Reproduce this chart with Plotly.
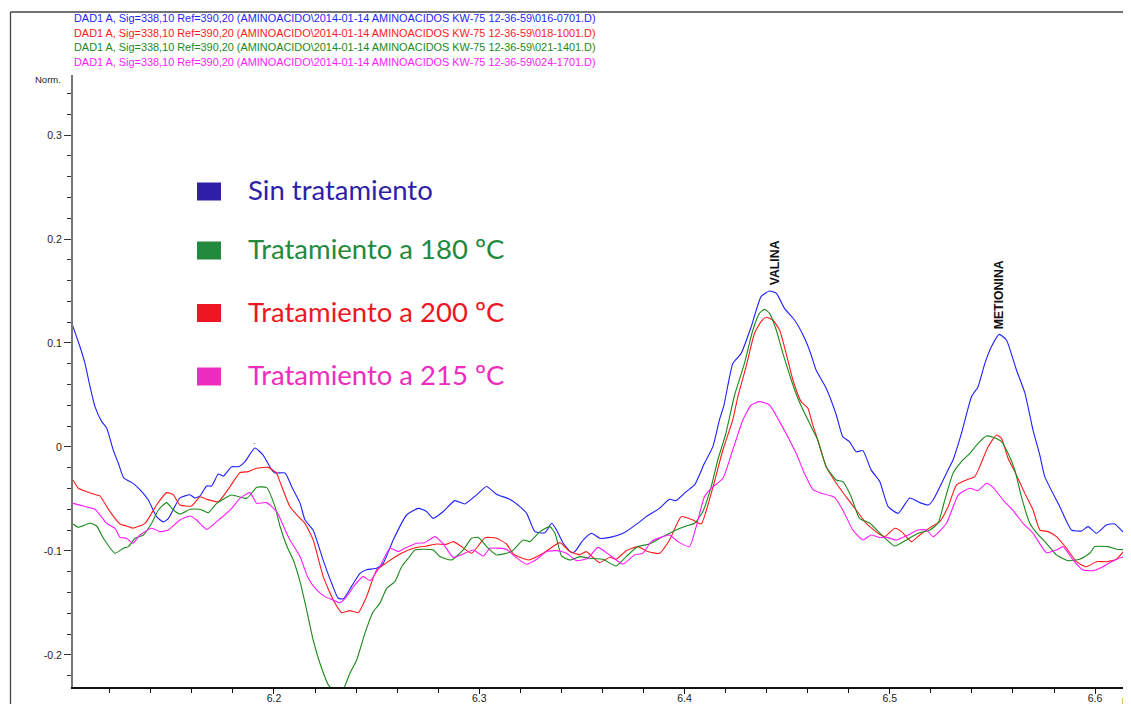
import plotly.graph_objects as go

# ---------------- data (retention time in min, normalized signal) ----------------
blue_t = [6.1019, 6.1055, 6.1079, 6.1104, 6.1128, 6.1161, 6.1185, 6.1217, 6.1242, 6.1269, 6.1307, 6.1347,
          6.1388, 6.1428, 6.1461, 6.1485, 6.1542, 6.1591, 6.1615, 6.1640, 6.1672, 6.1696, 6.1729, 6.1753,
          6.1794, 6.1826, 6.1859, 6.1907, 6.1948, 6.1989, 6.2005, 6.2054, 6.2086, 6.2127, 6.2151, 6.2191,
          6.2240, 6.2281, 6.2313, 6.2338, 6.2378, 6.2419, 6.2451, 6.2500, 6.2532, 6.2581, 6.2646, 6.2703,
          6.2743, 6.2776, 6.2825, 6.2881, 6.2930, 6.2987, 6.3036, 6.3084, 6.3149, 6.3198, 6.3231, 6.3271,
          6.3320, 6.3353, 6.3377, 6.3409, 6.3450, 6.3466, 6.3507, 6.3547, 6.3588, 6.3637, 6.3701, 6.3783,
          6.3813, 6.3878, 6.3927, 6.3959, 6.4008, 6.4049, 6.4097, 6.4138, 6.4170, 6.4192, 6.4235, 6.4276,
          6.4325, 6.4373, 6.4414, 6.4447, 6.4487, 6.4536, 6.4585, 6.4617, 6.4641, 6.4690, 6.4739, 6.4771,
          6.4804, 6.4836, 6.4869, 6.4909, 6.4951, 6.4992, 6.5041, 6.5097, 6.5146, 6.5187, 6.5211, 6.5284,
          6.5308, 6.5349, 6.5398, 6.5430, 6.5463, 6.5495, 6.5533, 6.5568, 6.5617, 6.5658, 6.5698, 6.5731,
          6.5755, 6.5828, 6.5885, 6.5934, 6.5966, 6.6007, 6.6055, 6.6096, 6.6145, 6.6174]
blue_v = [0.117, 0.0964, 0.0806, 0.058, 0.0388, 0.0244, 0.0183, -0.003, -0.0157, -0.030, -0.034, -0.041,
          -0.051, -0.067, -0.072, -0.069, -0.049, -0.046, -0.049, -0.047, -0.0375, -0.0375, -0.026, -0.028,
          -0.019, -0.019, -0.014, -0.001, -0.008, -0.022, -0.025, -0.025, -0.038, -0.054, -0.070, -0.080,
          -0.109, -0.131, -0.1455, -0.146, -0.134, -0.1215, -0.118, -0.1167, -0.112, -0.0894, -0.0654, -0.059,
          -0.062, -0.0686, -0.062, -0.0516, -0.0548, -0.046, -0.038, -0.0455, -0.0503, -0.0574, -0.0638, -0.0814,
          -0.0824, -0.0734, -0.080, -0.0926, -0.1016, -0.1006, -0.0894, -0.083, -0.0878, -0.0869, -0.083, -0.0718,
          -0.067, -0.059, -0.0503, -0.0516, -0.043, -0.0365, -0.0157, 0.0003, 0.026, 0.040, 0.080, 0.090,
          0.1157, 0.1446, 0.150, 0.1478, 0.1333, 0.1221, 0.1045, 0.0885, 0.074, 0.0564, 0.031, 0.0099,
          0.005, -0.0045, -0.0035, -0.022, -0.0333, -0.0574, -0.0638, -0.049, -0.0535, -0.0558, -0.051, -0.022,
          -0.0125, 0.0131, 0.0484, 0.058, 0.0804, 0.0965, 0.1083, 0.1029, 0.074, 0.052, 0.016, -0.008,
          -0.0285, -0.0574, -0.0798, -0.0808, -0.0766, -0.083, -0.075, -0.074, -0.083, -0.0824]

red_t = [6.1021, 6.1047, 6.1088, 6.1136, 6.1152, 6.1201, 6.1250, 6.1282, 6.1312, 6.1372, 6.1428, 6.1477,
         6.1510, 6.1542, 6.1599, 6.1640, 6.1672, 6.1729, 6.1786, 6.1834, 6.1875, 6.1916, 6.1972, 6.2013,
         6.2029, 6.2078, 6.2127, 6.2151, 6.2191, 6.2240, 6.2289, 6.2330, 6.2370, 6.2411, 6.2451, 6.2500,
         6.2549, 6.2614, 6.2679, 6.2743, 6.2792, 6.2841, 6.2873, 6.2914, 6.2963, 6.3028, 6.3084, 6.3133,
         6.3166, 6.3239, 6.3312, 6.3393, 6.3442, 6.3490, 6.3521, 6.3586, 6.3635, 6.3667, 6.3716, 6.3773,
         6.3821, 6.3878, 6.3927, 6.3984, 6.4041, 6.4081, 6.4130, 6.4187, 6.4235, 6.4260, 6.4300, 6.4341,
         6.4373, 6.4398, 6.4430, 6.4463, 6.4495, 6.4528, 6.4568, 6.4601, 6.4625, 6.4649, 6.4690, 6.4739,
         6.4787, 6.4836, 6.4885, 6.4943, 6.4976, 6.5024, 6.5057, 6.5106, 6.5146, 6.5203, 6.5244, 6.5284,
         6.5325, 6.5373, 6.5414, 6.5438, 6.5479, 6.5520, 6.5544, 6.5576, 6.5609, 6.5658, 6.5698, 6.5731,
         6.5771, 6.5812, 6.5861, 6.5909, 6.5958, 6.6007, 6.6055, 6.6104, 6.6153, 6.6174]
red_v = [-0.0317, -0.0397, -0.043, -0.0462, -0.047, -0.0622, -0.074, -0.076, -0.078, -0.0734, -0.0558, -0.0439,
         -0.046, -0.0558, -0.0567, -0.0478, -0.0503, -0.0526, -0.0381, -0.0247, -0.0237, -0.0205, -0.0196, -0.0253,
         -0.0333, -0.0574, -0.0686, -0.0734, -0.0894, -0.1247, -0.1471, -0.1593, -0.1574, -0.1593, -0.1439, -0.1183,
         -0.1112, -0.1029, -0.0974, -0.0952, -0.0933, -0.0936, -0.091, -0.0958, -0.1022, -0.0872, -0.0878, -0.0933,
         -0.1029, -0.1087, -0.1022, -0.092, -0.1006, -0.1035, -0.1006, -0.1112, -0.1061, -0.108, -0.0997, -0.0958,
         -0.1006, -0.1022, -0.0894, -0.067, -0.0702, -0.074, -0.0446, -0.0029, 0.026, 0.0484, 0.0772, 0.1093,
         0.1205, 0.1247, 0.1221, 0.1125, 0.0901, 0.0644, 0.0436, 0.0372, 0.021, 0.0067, -0.0189, -0.0349,
         -0.0478, -0.0606, -0.0734, -0.083, -0.0862, -0.0782, -0.0814, -0.091, -0.0846, -0.0766, -0.0718, -0.0574,
         -0.0365, -0.0317, -0.0285, -0.0189, 0.0003, 0.0115, 0.0083, -0.0109, -0.0237, -0.0446, -0.0606, -0.0798,
         -0.0814, -0.0862, -0.0974, -0.1103, -0.1151, -0.1103, -0.1103, -0.108, -0.0974, -0.0968]

green_t = [6.1021, 6.1047, 6.1104, 6.1136, 6.1169, 6.1226, 6.1266, 6.1291, 6.1323, 6.1364, 6.1404, 6.1437,
           6.1477, 6.1510, 6.1542, 6.1591, 6.1640, 6.1680, 6.1721, 6.1794, 6.1867, 6.1916, 6.1964, 6.2005,
           6.2029, 6.2062, 6.2094, 6.2127, 6.2159, 6.2191, 6.2224, 6.2265, 6.2310, 6.2338, 6.2370, 6.2403,
           6.2443, 6.2484, 6.2516, 6.2549, 6.2589, 6.2622, 6.2654, 6.2687, 6.2727, 6.2776, 6.2808, 6.2865,
           6.2922, 6.2963, 6.2995, 6.3036, 6.3084, 6.3157, 6.3214, 6.3247, 6.3296, 6.3344, 6.3369, 6.3401,
           6.3442, 6.3490, 6.3537, 6.3602, 6.3667, 6.3716, 6.3773, 6.3829, 6.3894, 6.3959, 6.4008, 6.4049,
           6.4089, 6.4130, 6.4162, 6.4200, 6.4244, 6.4292, 6.4333, 6.4365, 6.4390, 6.4414, 6.4447, 6.4479,
           6.4520, 6.4552, 6.4585, 6.4625, 6.4649, 6.4690, 6.4739, 6.4771, 6.4812, 6.4852, 6.4903, 6.4968,
           6.5024, 6.5081, 6.5138, 6.5195, 6.5235, 6.5268, 6.5308, 6.5349, 6.5390, 6.5430, 6.5471, 6.5503,
           6.5544, 6.5576, 6.5609, 6.5641, 6.5682, 6.5714, 6.5763, 6.5812, 6.5869, 6.5925, 6.5974, 6.5999,
           6.6063, 6.6104, 6.6145, 6.6174]
green_v = [-0.074, -0.0772, -0.0734, -0.076, -0.0878, -0.1022, -0.0974, -0.0958, -0.0878, -0.0846, -0.0734, -0.0606,
           -0.0535, -0.0606, -0.0644, -0.0599, -0.0599, -0.0631, -0.0542, -0.0462, -0.0494, -0.0388, -0.0391, -0.0574,
           -0.076, -0.095, -0.1087, -0.1295, -0.1567, -0.1856, -0.208, -0.2288, -0.238, -0.233, -0.2176, -0.2048,
           -0.1792, -0.1583, -0.1503, -0.1359, -0.1295, -0.1151, -0.1071, -0.099, -0.0984, -0.099, -0.1054, -0.1087,
           -0.099, -0.0878, -0.0869, -0.0958, -0.1038, -0.1006, -0.0894, -0.091, -0.0814, -0.0766, -0.083, -0.1048,
           -0.1087, -0.1054, -0.107, -0.108, -0.1144, -0.1054, -0.0958, -0.0933, -0.0862, -0.0798, -0.076, -0.0734,
           -0.0622, -0.0381, -0.0125, 0.012, 0.050, 0.0804, 0.1125, 0.1285, 0.1324, 0.1285, 0.1125, 0.0901,
           0.0644, 0.0468, 0.0324, 0.0163, 0.0067, -0.0189, -0.0317, -0.0333, -0.0478, -0.0686, -0.0734, -0.0862,
           -0.0952, -0.0894, -0.083, -0.0798, -0.0734, -0.051, -0.0253, -0.0141, -0.0061, 0.0035, 0.0106, 0.0093,
           0.0051, -0.0061, -0.0221, -0.0478, -0.0734, -0.0824, -0.0926, -0.1038, -0.1093, -0.108, -0.1022, -0.0958,
           -0.0958, -0.0984, -0.099, -0.1054]

magenta_t = [6.1021, 6.1071, 6.1128, 6.1185, 6.1226, 6.1250, 6.1282, 6.1312, 6.1347, 6.1404, 6.1445, 6.1485,
             6.1542, 6.1591, 6.1623, 6.1672, 6.1721, 6.1794, 6.1834, 6.1883, 6.1916, 6.1964, 6.2013, 6.2062,
             6.2078, 6.2127, 6.2167, 6.2208, 6.2249, 6.2289, 6.2322, 6.2354, 6.2394, 6.2435, 6.2468, 6.2516,
             6.2565, 6.2606, 6.2638, 6.2695, 6.2735, 6.2784, 6.2825, 6.2873, 6.2922, 6.2971, 6.3020, 6.3052,
             6.3133, 6.3174, 6.3231, 6.3280, 6.3328, 6.3377, 6.3425, 6.3474, 6.3529, 6.3578, 6.3635, 6.3700,
             6.3756, 6.3797, 6.3838, 6.3894, 6.3927, 6.3968, 6.4024, 6.4057, 6.4097, 6.4130, 6.4187, 6.4235,
             6.4284, 6.4325, 6.4365, 6.4414, 6.4463, 6.4503, 6.4544, 6.4584, 6.4625, 6.4658, 6.4731, 6.4771,
             6.4820, 6.4869, 6.4909, 6.4950, 6.4984, 6.5032, 6.5089, 6.5138, 6.5179, 6.5211, 6.5276, 6.5333,
             6.5390, 6.5430, 6.5471, 6.5503, 6.5552, 6.5601, 6.5649, 6.5698, 6.5763, 6.5812, 6.5844, 6.5893,
             6.5942, 6.5990, 6.6039, 6.6080, 6.6137, 6.6174]
magenta_v = [-0.0542, -0.0567, -0.0599, -0.0734, -0.0782, -0.0869, -0.0878, -0.0926, -0.0846, -0.0782, -0.0814, -0.0798,
             -0.0702, -0.0663, -0.0702, -0.0792, -0.0718, -0.059, -0.0494, -0.0439, -0.0542, -0.0535, -0.0622, -0.083,
             -0.0894, -0.1054, -0.1263, -0.1375, -0.1439, -0.1471, -0.1497, -0.1439, -0.1327, -0.1247, -0.1285, -0.1151,
             -0.0974, -0.1006, -0.0974, -0.0926, -0.092, -0.0862, -0.0933, -0.1061, -0.1029, -0.099, -0.1048, -0.0974,
             -0.0984, -0.1054, -0.1128, -0.108, -0.1006, -0.0997, -0.1022, -0.1093, -0.107, -0.0965, -0.1038, -0.1125,
             -0.1038, -0.1022, -0.091, -0.0862, -0.0846, -0.091, -0.0958, -0.0766, -0.0478, -0.0397, -0.0301, -0.0029,
             0.026, 0.0404, 0.0436, 0.0404, 0.0244, 0.0099, -0.0061, -0.0253, -0.0407, -0.0439, -0.0484, -0.0606,
             -0.0798, -0.0894, -0.0846, -0.087, -0.0869, -0.0894, -0.0846, -0.0798, -0.0798, -0.0862, -0.0734, -0.0462,
             -0.0397, -0.042, -0.0349, -0.0388, -0.051, -0.0612, -0.0734, -0.083, -0.1016, -0.099, -0.0958, -0.1087,
             -0.1183, -0.1189, -0.1151, -0.1103, -0.1061, -0.1103]

header_lines = [
    "DAD1 A, Sig=338,10 Ref=390,20 (AMINOACIDO\\2014-01-14 AMINOACIDOS KW-75 12-36-59\\016-0701.D)",
    "DAD1 A, Sig=338,10 Ref=390,20 (AMINOACIDO\\2014-01-14 AMINOACIDOS KW-75 12-36-59\\018-1001.D)",
    "DAD1 A, Sig=338,10 Ref=390,20 (AMINOACIDO\\2014-01-14 AMINOACIDOS KW-75 12-36-59\\021-1401.D)",
    "DAD1 A, Sig=338,10 Ref=390,20 (AMINOACIDO\\2014-01-14 AMINOACIDOS KW-75 12-36-59\\024-1701.D)",
]
legend_labels = ["Sin tratamiento", "Tratamiento a 180 ºC", "Tratamiento a 200 ºC", "Tratamiento a 215 ºC"]
peak_labels = ["VALINA", "METIONINA"]
peak_t = [6.444, 6.5531]
peak_v = [0.1774, 0.1466]
y_ticks = [-0.2, -0.1, 0, 0.1, 0.2, 0.3]
y_ticktext = ["-0.2", "-0.1", "0", "0.1", "0.2", "0.3"]
x_ticks = [6.2, 6.3, 6.4, 6.5, 6.6]
x_ticktext = ["6.2", "6.3", "6.4", "6.5", "6.6"]

# ---------------- layout geometry ----------------
# the page body adds an 8px offset, so the figure is 8px smaller and margins shifted
OFF = 8
W, H = 1131 - OFF, 704 - OFF
PL, PR, PT, PB = 73, 1131, 75, 687          # plot area in page pixels
L, T = PL - OFF, PT - OFF
R, B = 0, H - (PB - OFF)
PW, PH = PR - PL, PB - PT


def px(x):
    return (x - PL) / PW


def py(y):
    return (PB - y) / PH


line_cols = ["#1f1fff", "#ff1a1a", "#1a8a1a", "#ff1aff"]
series = [(blue_t, blue_v), (red_t, red_v), (green_t, green_v), (magenta_t, magenta_v)]

fig = go.Figure()
for (t, v), c in zip(series, line_cols):
    fig.add_trace(go.Scatter(x=t, y=v, mode="lines", line=dict(color=c, width=1.1, shape="spline", smoothing=0.5),
                             showlegend=False, hoverinfo="skip"))

annotations = []
shapes = []

# header lines
for i, (txt, c) in enumerate(zip(header_lines, line_cols)):
    annotations.append(dict(xref="paper", yref="paper", x=px(72), y=py(18 + 14.7 * i), text=txt,
                            showarrow=False, xanchor="left", yanchor="middle",
                            font=dict(family="Liberation Sans", size=10.9, color=c)))

# Norm. label
annotations.append(dict(xref="paper", yref="paper", x=px(63), y=py(80), text="Norm.", showarrow=False,
                        xanchor="right", yanchor="middle",
                        font=dict(family="Liberation Sans", size=9.5, color="#222")))
# min label (clipped at right)
annotations.append(dict(xref="paper", yref="paper", x=px(1120), y=py(700), text="min", showarrow=False,
                        xanchor="left", yanchor="middle",
                        font=dict(family="Liberation Sans", size=10.5, color="#222")))

# peak labels
for lab, t, v in zip(peak_labels, peak_t, peak_v):
    annotations.append(dict(xref="x", yref="y", x=t, y=v, text="<b>%s</b>" % lab, textangle=-90,
                            showarrow=False, xanchor="center", yanchor="middle",
                            font=dict(family="Liberation Sans", size=12.3, color="#111")))
# small tick mark over first blue bump
annotations.append(dict(xref="x", yref="y", x=6.1903, y=0.004, text="-", showarrow=False,
                        font=dict(family="Liberation Sans", size=8, color="#777")))

# legend (boxes + text)
leg_cols = ["#2e1ea8", "#23893d", "#ec1723", "#ec2dbd"]
leg_y = [191.5, 250.5, 313, 376.5]
for lab, c, yy in zip(legend_labels, leg_cols, leg_y):
    shapes.append(dict(type="rect", xref="paper", yref="paper", x0=px(197), x1=px(221),
                       y0=py(yy + 9), y1=py(yy - 9), fillcolor=c, line=dict(width=0)))
    annotations.append(dict(xref="paper", yref="paper", x=px(246), y=py(yy - 2), text=lab, showarrow=False,
                            xanchor="left", yanchor="middle",
                            font=dict(family="Lato", size=27.5, color=c)))

# outer frame lines
shapes.append(dict(type="line", xref="paper", yref="paper", x0=px(10.5), x1=px(10.5), y0=py(12), y1=py(710),
                   line=dict(color="#444", width=1.3)))
shapes.append(dict(type="line", xref="paper", yref="paper", x0=px(10.5), x1=px(1140), y0=py(12), y1=py(12),
                   line=dict(color="#444", width=1.3)))

fig.update_layout(
    width=W, height=H, autosize=False,
    margin=dict(l=L, r=R, t=T, b=B, pad=0, autoexpand=False),
    paper_bgcolor="white", plot_bgcolor="white",
    annotations=annotations, shapes=shapes,
    xaxis=dict(range=[6.1021, 6.6175], showgrid=False, zeroline=False, automargin=False,
               showline=True, linecolor="#111", linewidth=2,
               tickmode="array", tickvals=x_ticks, ticktext=x_ticktext,
               ticks="outside", ticklen=5, tickwidth=1, tickcolor="#111", ticklabelstandoff=-5,
               minor=dict(dtick=0.02, tick0=6.2, ticks="outside", ticklen=4, tickcolor="#111", tickwidth=1),
               tickfont=dict(family="Liberation Sans", size=10.5, color="#222")),
    yaxis=dict(range=[-0.2308, 0.3577], showgrid=False, zeroline=False, automargin=False,
               showline=True, linecolor="#777", linewidth=2,
               tickmode="array", tickvals=y_ticks, ticktext=y_ticktext,
               ticks="outside", ticklen=7, tickwidth=1, tickcolor="#333",
               minor=dict(dtick=0.02, tick0=0, ticks="outside", ticklen=4, tickcolor="#333", tickwidth=1),
               tickfont=dict(family="Liberation Sans", size=10.5, color="#222")),
)

fig.write_html("out.html")
